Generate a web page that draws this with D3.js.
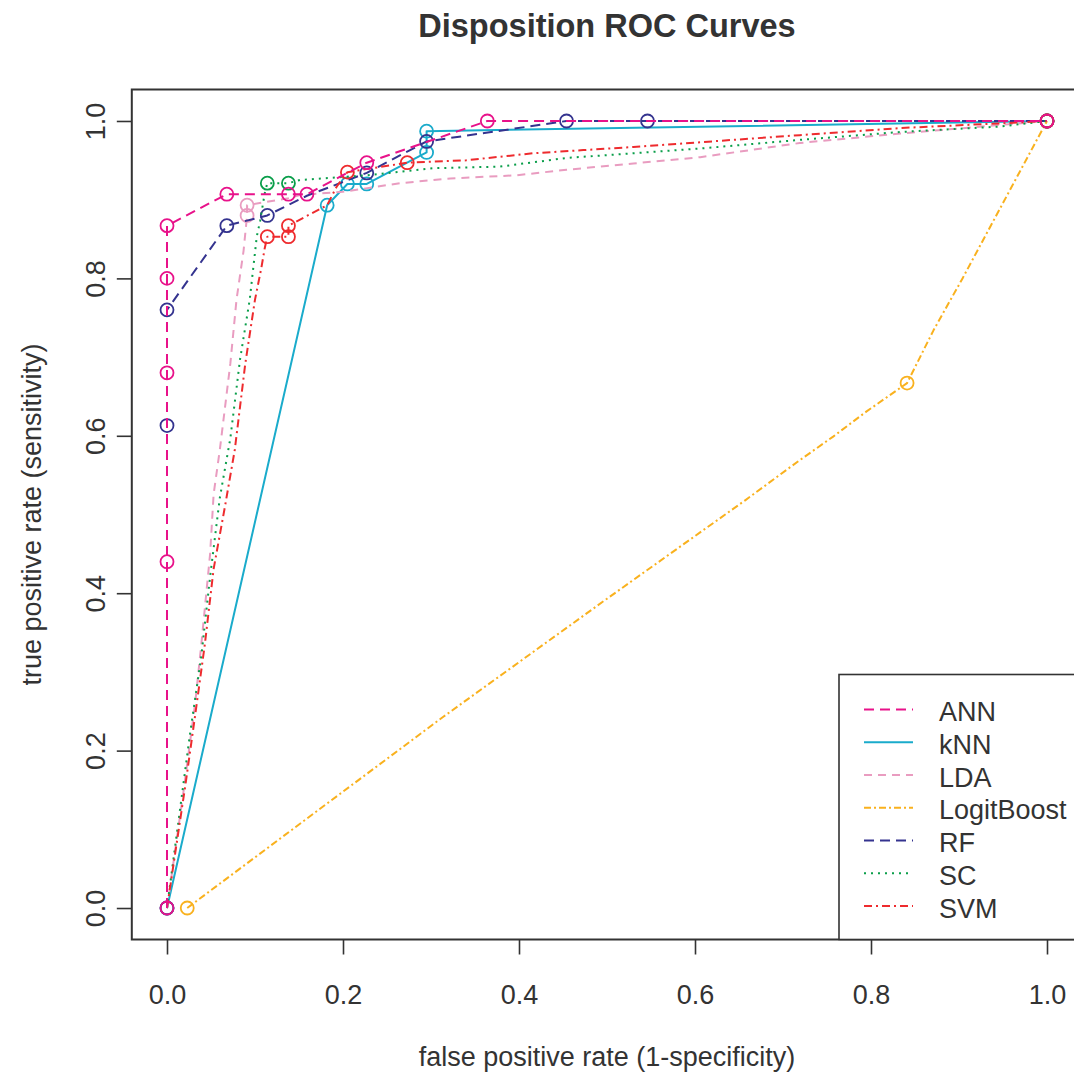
<!DOCTYPE html>
<html>
<head>
<meta charset="utf-8">
<script src="https://cdn.jsdelivr.net/npm/d3@7"></script>
<style>
  html, body { margin: 0; padding: 0; background: #fff; }
  svg { display: block; }
</style>
</head>
<body>
<svg id="chart" width="1074" height="1076"></svg>
<script>
// ---- Data ----
const seriesNames = ["ANN", "kNN", "LDA", "LogitBoost", "RF", "SC", "SVM"];
const seriesColors = ["#E8128A", "#1AABCB", "#E99CC0", "#F9B11E", "#34338F", "#0A9E4A", "#EE2B2E"];
const seriesDash = ["10,6", null, "8,6", "7,3,2,3", "10,6", "2,5", "8,4,2,4"];

const xTicks = [0.0, 0.2, 0.4, 0.6, 0.8, 1.0];
const yTicks = [0.0, 0.2, 0.4, 0.6, 0.8, 1.0];

// line points (false positive rate, true positive rate)
const annFpr = [0, 0, 0, 0, 0, 0.068, 0.138, 0.159, 0.227, 0.364, 1];
const annTpr = [0, 0.44, 0.68, 0.80, 0.867, 0.907, 0.907, 0.907, 0.947, 1, 1];
const annMarkFpr = [0, 0, 0, 0, 0, 0.068, 0.138, 0.159, 0.227, 0.364, 1];
const annMarkTpr = [0, 0.44, 0.68, 0.80, 0.867, 0.907, 0.907, 0.907, 0.947, 1, 1];

const knnFpr = [0, 0.182, 0.205, 0.227, 0.295, 0.295, 1];
const knnTpr = [0, 0.893, 0.92, 0.92, 0.96, 0.987, 1];
const knnMarkFpr = [0, 0.182, 0.205, 0.227, 0.295, 0.295, 1];
const knnMarkTpr = [0, 0.893, 0.92, 0.92, 0.96, 0.987, 1];

const ldaFpr = [0, 0.019, 0.032, 0.039, 0.049, 0.053, 0.060, 0.072, 0.079, 0.087, 0.091, 0.091, 0.138, 0.151, 0.200, 0.265, 0.322, 0.397, 0.454, 0.530, 0.606, 0.719, 0.833, 0.947, 1];
const ldaTpr = [0, 0.150, 0.260, 0.335, 0.450, 0.526, 0.582, 0.692, 0.773, 0.835, 0.880, 0.893, 0.902, 0.906, 0.910, 0.921, 0.927, 0.931, 0.938, 0.946, 0.954, 0.972, 0.984, 0.995, 1];
const ldaMarkFpr = [0.091, 0.091, 1];
const ldaMarkTpr = [0.880, 0.893, 1];

const lbFpr = [0.023, 0.157, 0.314, 0.50, 0.657, 0.719, 0.757, 0.795, 0.841, 0.871, 0.904, 1];
const lbTpr = [0, 0.112, 0.243, 0.393, 0.518, 0.569, 0.599, 0.631, 0.667, 0.734, 0.80, 1];
const lbMarkFpr = [0.023, 0.841, 1];
const lbMarkTpr = [0, 0.667, 1];

const rfFpr = [0, 0, 0, 0.068, 0.114, 0.159, 0.227, 0.295, 0.454, 0.546, 1];
const rfTpr = [0, 0.613, 0.76, 0.867, 0.88, 0.905, 0.934, 0.974, 1, 1, 1];
const rfMarkFpr = [0, 0, 0, 0.068, 0.114, 0.227, 0.295, 0.454, 0.546, 1];
const rfMarkTpr = [0, 0.613, 0.76, 0.867, 0.88, 0.934, 0.974, 1, 1, 1];

const scFpr = [0, 0.026, 0.039, 0.049, 0.060, 0.072, 0.083, 0.094, 0.102, 0.106, 0.111, 0.114, 0.138, 0.151, 0.227, 0.303, 0.378, 0.454, 0.530, 0.606, 0.719, 0.833, 0.947, 1];
const scTpr = [0, 0.220, 0.320, 0.421, 0.521, 0.597, 0.697, 0.773, 0.853, 0.874, 0.908, 0.921, 0.921, 0.925, 0.931, 0.940, 0.942, 0.953, 0.959, 0.965, 0.976, 0.986, 0.993, 1];
const scMarkFpr = [0.114, 0.138, 1];
const scMarkTpr = [0.921, 0.921, 1];

const svmFpr = [0, 0.021, 0.032, 0.043, 0.053, 0.066, 0.077, 0.089, 0.100, 0.107, 0.111, 0.114, 0.138, 0.138, 0.182, 0.193, 0.205, 0.273, 0.340, 0.416, 0.473, 0.530, 0.606, 0.719, 0.833, 0.947, 1];
const svmTpr = [0, 0.157, 0.245, 0.335, 0.431, 0.511, 0.582, 0.692, 0.773, 0.812, 0.838, 0.853, 0.853, 0.867, 0.893, 0.917, 0.935, 0.947, 0.950, 0.959, 0.963, 0.967, 0.973, 0.982, 0.991, 0.997, 1];
const svmMarkFpr = [0.114, 0.138, 0.138, 0.205, 0.273, 1];
const svmMarkTpr = [0.853, 0.853, 0.867, 0.935, 0.947, 1];

const lineFpr = [annFpr, knnFpr, ldaFpr, lbFpr, rfFpr, scFpr, svmFpr];
const lineTpr = [annTpr, knnTpr, ldaTpr, lbTpr, rfTpr, scTpr, svmTpr];
const markFpr = [annMarkFpr, knnMarkFpr, ldaMarkFpr, lbMarkFpr, rfMarkFpr, scMarkFpr, svmMarkFpr];
const markTpr = [annMarkTpr, knnMarkTpr, ldaMarkTpr, lbMarkTpr, rfMarkTpr, scMarkTpr, svmMarkTpr];

const titleText = "Disposition ROC Curves";
const xLabel = "false positive rate (1-specificity)";
const yLabel = "true positive rate (sensitivity)";

// ---- Drawing ----
const svg = d3.select("#chart");
const font = "'Liberation Sans', Arial, Helvetica, sans-serif";
const ink = "#333333";

const box = { left: 131.8, right: 1082.2, top: 89.5, bottom: 939.5 };
const x = d3.scaleLinear().domain([-0.04, 1.04]).range([box.left, box.right]);
const y = d3.scaleLinear().domain([-0.04, 1.04]).range([box.bottom, box.top]);

// title
svg.append("text")
  .attr("x", (box.left + box.right) / 2).attr("y", 26)
  .attr("text-anchor", "middle").attr("dominant-baseline", "central")
  .attr("font-family", font).attr("font-weight", "bold").attr("font-size", 32.5)
  .attr("fill", ink).text(titleText);

// axes
const xAxis = d3.axisBottom(x).tickValues(xTicks).tickFormat(d3.format(".1f"))
  .tickSize(15).tickPadding(0);
const gx = svg.append("g").attr("transform", `translate(0,${box.bottom})`).call(xAxis);
gx.select(".domain").remove();
gx.selectAll(".tick line").attr("stroke", ink).attr("stroke-width", 1.6);
gx.selectAll(".tick text").attr("font-family", font).attr("font-size", 27)
  .attr("fill", ink).attr("y", 55).attr("dy", "0.35em");

const yAxis = d3.axisLeft(y).tickValues(yTicks).tickFormat(d3.format(".1f"))
  .tickSize(15).tickPadding(0);
const gy = svg.append("g").attr("transform", `translate(${box.left},0)`).call(yAxis);
gy.select(".domain").remove();
gy.selectAll(".tick line").attr("stroke", ink).attr("stroke-width", 1.6);
gy.selectAll(".tick text").attr("font-family", font).attr("font-size", 27)
  .attr("fill", ink).attr("x", null).attr("dy", null)
  .attr("text-anchor", "middle").attr("dominant-baseline", "central")
  .attr("transform", "translate(-36,0) rotate(-90)");

// axis titles
svg.append("text")
  .attr("x", (box.left + box.right) / 2).attr("y", 1057)
  .attr("text-anchor", "middle").attr("dominant-baseline", "central")
  .attr("font-family", font).attr("font-size", 27).attr("fill", ink).text(xLabel);
svg.append("text")
  .attr("transform", `translate(32,${(box.top + box.bottom) / 2}) rotate(-90)`)
  .attr("text-anchor", "middle").attr("dominant-baseline", "central")
  .attr("font-family", font).attr("font-size", 27).attr("fill", ink).text(yLabel);

// series
const line = d3.line().x(d => x(d[0])).y(d => y(d[1]));
const drawOrder = [1, 2, 3, 4, 5, 6, 0];
const plot = svg.append("g");
drawOrder.forEach(i => {
  const pts = lineFpr[i].map((v, k) => [v, lineTpr[i][k]]);
  plot.append("path")
    .attr("d", line(pts))
    .attr("fill", "none")
    .attr("stroke", seriesColors[i])
    .attr("stroke-width", 2)
    .attr("stroke-dasharray", seriesDash[i])
    .attr("stroke-linejoin", "round");
  const mk = markFpr[i].map((v, k) => [v, markTpr[i][k]]);
  plot.selectAll(null).data(mk).enter().append("circle")
    .attr("cx", d => x(d[0])).attr("cy", d => y(d[1])).attr("r", 6.5)
    .attr("fill", "none").attr("stroke", seriesColors[i]).attr("stroke-width", 1.8);
});

// plot box
svg.append("rect")
  .attr("x", box.left).attr("y", box.top)
  .attr("width", box.right - box.left).attr("height", box.bottom - box.top)
  .attr("fill", "none").attr("stroke", ink).attr("stroke-width", 2);

// legend (bottom right)
const leg = { left: 839, top: 674.5 };
svg.append("rect")
  .attr("x", leg.left).attr("y", leg.top)
  .attr("width", box.right - leg.left).attr("height", box.bottom - leg.top)
  .attr("fill", "#fff").attr("stroke", ink).attr("stroke-width", 1.6);
const legY = d3.scaleLinear().domain([0, seriesNames.length - 1]).range([709.5, 906]);
seriesNames.forEach((name, i) => {
  svg.append("line")
    .attr("x1", 864).attr("x2", 913)
    .attr("y1", legY(i)).attr("y2", legY(i))
    .attr("stroke", seriesColors[i]).attr("stroke-width", 2)
    .attr("stroke-dasharray", seriesDash[i]);
  svg.append("text")
    .attr("x", 939).attr("y", legY(i) + 2.5)
    .attr("dominant-baseline", "central")
    .attr("font-family", font).attr("font-size", 27).attr("fill", ink).text(name);
});
</script>
</body>
</html>
